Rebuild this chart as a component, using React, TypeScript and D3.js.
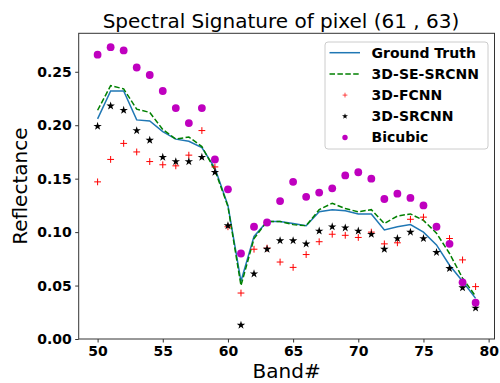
import { useEffect, useRef } from "react";
import * as d3 from "d3";

const bands = d3.range(50, 80);

const groundTruth = [
  0.206, 0.232, 0.232, 0.205, 0.204, 0.194, 0.187, 0.185, 0.179, 0.160,
  0.125, 0.054, 0.096, 0.110, 0.110, 0.108, 0.106, 0.119, 0.121, 0.120,
  0.117, 0.117, 0.102, 0.105, 0.107, 0.100, 0.088, 0.069, 0.054, 0.038,
];
const seSrcnn = [
  0.214, 0.237, 0.234, 0.215, 0.212, 0.196, 0.187, 0.189, 0.180, 0.158,
  0.124, 0.050, 0.094, 0.110, 0.110, 0.107, 0.106, 0.121, 0.127, 0.122,
  0.119, 0.121, 0.108, 0.115, 0.117, 0.111, 0.099, 0.080, 0.057, 0.040,
];
const fcnn = [
  0.147, 0.168, 0.183, 0.175, 0.166, 0.163, 0.162, 0.172, 0.195, 0.161,
  0.105, 0.043, 0.084, 0.085, 0.072, 0.067, 0.079, 0.091, 0.098, 0.097,
  0.095, 0.100, 0.089, 0.090, 0.112, 0.114, 0.105, 0.094, 0.074, 0.049,
];
const srcnn = [
  0.199, 0.218, 0.214, 0.195, 0.186, 0.170, 0.166, 0.166, 0.170, 0.156,
  0.106, 0.013, 0.061, 0.084, 0.092, 0.092, 0.089, 0.101, 0.105, 0.104,
  0.101, 0.098, 0.084, 0.094, 0.100, 0.094, 0.081, 0.066, 0.048, 0.029,
];
const bicubic = [
  0.266, 0.273, 0.270, 0.254, 0.247, 0.232, 0.216, 0.202, 0.216, 0.168,
  0.140, 0.080, 0.105, 0.109, 0.129, 0.147, 0.133, 0.137, 0.141, 0.153,
  0.156, 0.150, 0.131, 0.136, 0.132, 0.125, 0.105, 0.089, 0.053, 0.034,
];

const xTicks = [50, 55, 60, 65, 70, 75, 80];
const yTicks = [0, 0.05, 0.1, 0.15, 0.2, 0.25];
const legendLabels = ["Ground Truth", "3D-SE-SRCNN", "3D-FCNN", "3D-SRCNN", "Bicubic"];

const W = 500;
const H = 383;
const FONT = "DejaVu Sans, sans-serif";

export default function App() {
  const ref = useRef<SVGSVGElement>(null);

  useEffect(() => {
    const svg = d3.select(ref.current);
    svg.selectAll("*").remove();

    const margin = { left: 78.7, right: 494.5, top: 33.3, bottom: 339 };

    const x = d3.scaleLinear().domain([48.55, 80.45]).range([margin.left, margin.right]);
    const y = d3.scaleLinear().domain([0, 0.286]).range([margin.bottom, margin.top]);

    // title
    svg
      .append("text")
      .attr("x", 281)
      .attr("y", 28)
      .attr("text-anchor", "middle")
      .attr("font-size", "20px")
      .attr("font-family", FONT)
      .text("Spectral Signature of pixel (61 , 63)");

    const pts = (vals: number[]) => bands.map((b, i) => [b, vals[i]] as [number, number]);

    const line = d3
      .line<[number, number]>()
      .x((d) => x(d[0]))
      .y((d) => y(d[1]));

    const plot = svg.append("g");

    plot
      .append("path")
      .datum(pts(groundTruth))
      .attr("fill", "none")
      .attr("stroke", "#1f77b4")
      .attr("stroke-width", 1.5)
      .attr("d", line);

    plot
      .append("path")
      .datum(pts(seSrcnn))
      .attr("fill", "none")
      .attr("stroke", "#008000")
      .attr("stroke-width", 1.5)
      .attr("stroke-dasharray", "5.5,2.4")
      .attr("d", line);

    const plus = "M-3.4,0H3.4M0,-3.4V3.4";
    const star = d3.symbol(d3.symbolStar, 22)()!;

    plot
      .selectAll(".fcnn")
      .data(pts(fcnn))
      .enter()
      .append("path")
      .attr("transform", (d) => `translate(${x(d[0])},${y(d[1])})`)
      .attr("d", plus)
      .attr("stroke", "#ff0000")
      .attr("stroke-width", 1)
      .attr("fill", "none");

    plot
      .selectAll(".srcnn")
      .data(pts(srcnn))
      .enter()
      .append("path")
      .attr("transform", (d) => `translate(${x(d[0])},${y(d[1])})`)
      .attr("d", star)
      .attr("fill", "#000");

    plot
      .selectAll(".bic")
      .data(pts(bicubic))
      .enter()
      .append("circle")
      .attr("cx", (d) => x(d[0]))
      .attr("cy", (d) => y(d[1]))
      .attr("r", 3.9)
      .attr("fill", "#bf00bf");

    // frame
    svg
      .append("rect")
      .attr("x", margin.left)
      .attr("y", margin.top)
      .attr("width", margin.right - margin.left)
      .attr("height", margin.bottom - margin.top)
      .attr("fill", "none")
      .attr("stroke", "#333")
      .attr("stroke-width", 1);

    // x axis
    const xa = svg
      .append("g")
      .attr("transform", `translate(0,${margin.bottom})`)
      .call(d3.axisBottom(x).tickValues(xTicks).tickSize(3.5).tickPadding(3.5).tickFormat(d3.format("d")));
    xa.select(".domain").remove();
    xa.selectAll("line").attr("stroke", "#333");
    xa.selectAll("text")
      .attr("font-size", "14px")
      .attr("font-weight", "bold")
      .attr("font-family", FONT)
      .attr("fill", "#000");

    const ya = svg
      .append("g")
      .attr("transform", `translate(${margin.left},0)`)
      .call(d3.axisLeft(y).tickValues(yTicks).tickSize(3.5).tickPadding(3.5).tickFormat(d3.format(".2f")));
    ya.select(".domain").remove();
    ya.selectAll("line").attr("stroke", "#333");
    ya.selectAll("text")
      .attr("font-size", "14px")
      .attr("font-weight", "bold")
      .attr("font-family", FONT)
      .attr("fill", "#000");

    svg
      .append("text")
      .attr("x", (margin.left + margin.right) / 2)
      .attr("y", 378)
      .attr("text-anchor", "middle")
      .attr("font-size", "20px")
      .attr("font-family", FONT)
      .text("Band#");

    svg
      .append("text")
      .attr("transform", `translate(27,${(margin.top + margin.bottom) / 2}) rotate(-90)`)
      .attr("text-anchor", "middle")
      .attr("font-size", "20px")
      .attr("font-family", FONT)
      .text("Reflectance");

    // legend
    const lg = svg.append("g").attr("transform", "translate(325,42)");
    lg.append("rect")
      .attr("width", 163)
      .attr("height", 107)
      .attr("rx", 3)
      .attr("fill", "#fff")
      .attr("fill-opacity", 0.8)
      .attr("stroke", "#ccc");

    legendLabels.forEach((label, i) => {
      const cy = 10.7 + i * 21.2;
      const row = lg.append("g").attr("transform", `translate(0,${cy})`);
      if (i === 0) {
        row.append("line").attr("x1", 4.5).attr("x2", 35).attr("stroke", "#1f77b4").attr("stroke-width", 1.5);
      } else if (i === 1) {
        row
          .append("line")
          .attr("x1", 4.5)
          .attr("x2", 35)
          .attr("stroke", "#008000")
          .attr("stroke-width", 1.5)
          .attr("stroke-dasharray", "5.5,2.4");
      } else if (i === 2) {
        row.append("path").attr("transform", "translate(20,0) scale(0.7)").attr("d", plus).attr("stroke", "#ff0000").attr("fill", "none");
      } else if (i === 3) {
        row.append("path").attr("transform", "translate(20,0) scale(0.7)").attr("d", star).attr("fill", "#000");
      } else {
        row.append("circle").attr("cx", 20).attr("r", 2.7).attr("fill", "#bf00bf");
      }
      row
        .append("text")
        .attr("x", 46.5)
        .attr("dy", "0.35em")
        .attr("font-size", "14px")
        .attr("font-weight", "bold")
        .attr("font-family", FONT)
        .text(label);
    });
  }, []);

  return (
    <svg
      ref={ref}
      width={W}
      height={H}
      style={{ position: "absolute", left: 0, top: 0, display: "block", background: "#fff" }}
    />
  );
}
